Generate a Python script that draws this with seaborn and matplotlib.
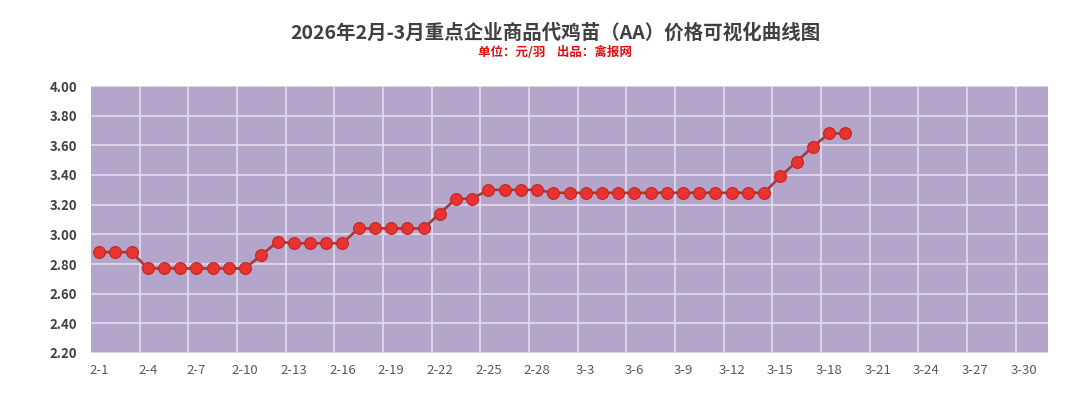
import numpy as np
import pandas as pd
import matplotlib
matplotlib.use("Agg")
import matplotlib.pyplot as plt
from matplotlib.ticker import FixedLocator
import seaborn as sns

# =========================
# Data
# =========================
feb_days = [f"2-{d}" for d in range(1, 29)]
mar_days = [f"3-{d}" for d in range(1, 32)]
dates = feb_days + mar_days

prices = [
    2.88, 2.88, 2.88, 2.77, 2.77, 2.77, 2.77, 2.77, 2.77, 2.77,
    2.86, 2.95, 2.94, 2.94, 2.94, 2.94, 3.04, 3.04, 3.04, 3.04,
    3.04, 3.14, 3.24, 3.24, 3.30, 3.30, 3.30, 3.30,
    3.28, 3.28, 3.28, 3.28, 3.28, 3.28, 3.28, 3.28, 3.28, 3.28,
    3.28, 3.28, 3.28, 3.28, 3.39, 3.49, 3.59, 3.68, 3.68,
]

title_main = "2026年2月-3月重点企业商品代鸡苗（AA）价格可视化曲线图"
subtitle = "单位：元/羽    出品：禽报网"

df = pd.DataFrame({
    "pos": np.arange(len(prices)),
    "date": dates[:len(prices)],
    "price": prices,
})

# =========================
# Style
# =========================
sns.set_style("white")
plt.rcParams["font.family"] = ["Noto Sans CJK SC", "DejaVu Sans"]

bg = "#b4a6ca"
grid_c = "#e2dbec"

fig = plt.figure(figsize=(10.8, 4.01), dpi=100)
ax = fig.add_axes([91 / 1080, 48 / 401, 957 / 1080, 267 / 401])
ax.set_facecolor(bg)

sns.lineplot(
    data=df, x="pos", y="price", ax=ax,
    color="#a33a3a", linewidth=1.9,
    marker="o", markersize=8.5,
    markerfacecolor="#e83331", markeredgecolor="#c42424", markeredgewidth=0.8,
    zorder=5,
)

# =========================
# Axes
# =========================
n = len(dates)
ax.set_xlim(-0.5, n - 0.5)
ax.set_ylim(2.2, 4.0)

ax.xaxis.set_major_locator(FixedLocator(list(range(0, n, 3))))
ax.set_xticklabels(dates[::3])
ax.xaxis.set_minor_locator(FixedLocator([k - 0.5 for k in range(3, n, 3)]))
ax.set_yticks(np.arange(2.2, 4.01, 0.2))
ax.set_yticklabels([f"{v:.2f}" for v in np.arange(2.2, 4.01, 0.2)])

ax.grid(False)
ax.grid(axis="x", which="minor", color=grid_c, linewidth=1.2)
ax.grid(axis="y", which="major", color=grid_c, linewidth=1.2)
ax.set_axisbelow(True)

ax.tick_params(axis="x", which="both", length=0, pad=8,
               labelsize=9.5, labelcolor="#595959")
ax.tick_params(axis="y", length=0, pad=10, labelsize=9.5, labelcolor="#404040")
for lab in ax.get_yticklabels():
    lab.set_fontweight("bold")

for s in ax.spines.values():
    s.set_visible(False)

ax.set_xlabel("")
ax.set_ylabel("")

# =========================
# Titles
# =========================
fig.text(0.514, 1 - 33 / 401, title_main, ha="center", va="center",
         fontsize=14, fontweight="bold", color="#404040")
fig.text(0.514, 1 - 52 / 401, subtitle, ha="center", va="center",
         fontsize=9, fontweight="bold", color="#e01010")

fig.savefig("out.png", dpi=100, facecolor="white")
